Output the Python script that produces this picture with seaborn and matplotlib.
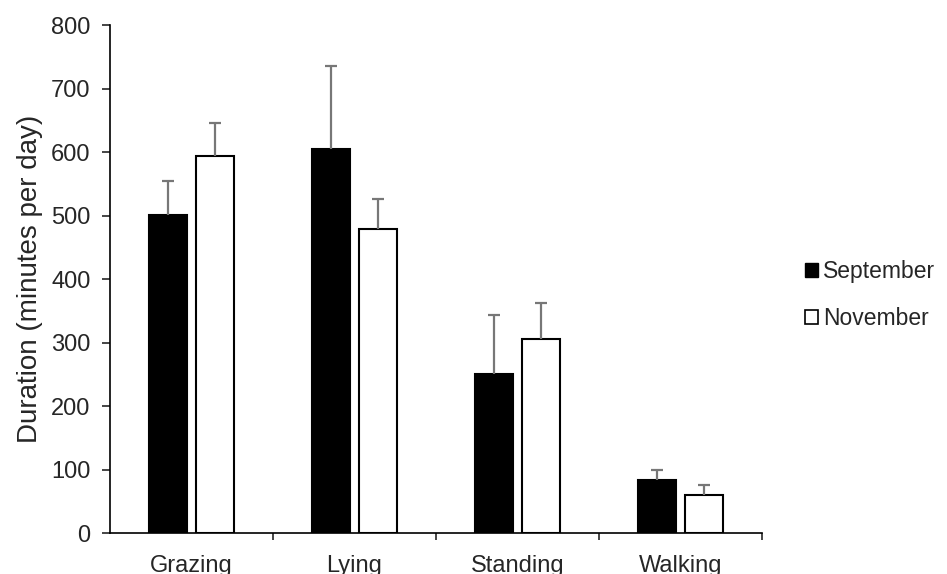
import numpy as np
import pandas as pd
import matplotlib
matplotlib.use("Agg")
import matplotlib.pyplot as plt
import seaborn as sns
from matplotlib.patches import Patch
from matplotlib.ticker import FixedLocator

behaviours = ["Grazing", "Lying", "Standing", "Walking"]
months = ["September", "November"]
september = [501, 605, 251, 84]
november = [593, 478, 306, 60]
september_se = [54, 131, 93, 15]
november_se = [53, 48, 56, 16]

df = pd.DataFrame({
    "behaviour": behaviours * 2,
    "month": [months[0]] * 4 + [months[1]] * 4,
    "duration": september + november,
})

sns.set_style("white")
plt.rcParams["font.family"] = ["Liberation Sans", "DejaVu Sans"]

fig = plt.figure(figsize=(9.47, 5.74), dpi=100)
ax = fig.add_axes([0.116, 0.0714, 0.689, 0.885])

sns.barplot(
    data=df, x="behaviour", y="duration", hue="month",
    order=behaviours, hue_order=months,
    palette={"September": "black", "November": "white"},
    edgecolor="black", linewidth=1.5, width=0.577, gap=0.19,
    errorbar=None, legend=False, ax=ax,
)

# one-sided error bars in grey, drawn behind the bars
cap = 0.037
for cont, errs in zip(ax.containers, [september_se, november_se]):
    for bar, e in zip(cont, errs):
        xc = bar.get_x() + bar.get_width() / 2
        top = bar.get_height()
        ax.vlines(xc, top, top + e, colors="#777777", linewidth=1.6, zorder=1)
        ax.hlines(top + e, xc - cap, xc + cap, colors="#777777", linewidth=1.6, zorder=1)

ax.set_ylim(0, 800)
ax.set_xlim(-0.5, 3.5)
ax.set_yticks(np.arange(0, 801, 100))
ax.set_ylabel("Duration (minutes per day)", fontsize=20, labelpad=6)
ax.set_xlabel("")
ax.tick_params(axis="y", labelsize=17, length=6, width=1.2, direction="out", left=True, pad=8)
ax.tick_params(axis="x", which="major", labelsize=17, length=0, pad=16)
ax.xaxis.set_minor_locator(FixedLocator([0.5, 1.5, 2.5, 3.5]))
ax.tick_params(axis="x", which="minor", length=5, width=1.2, direction="out", bottom=True)

for side in ["top", "right"]:
    ax.spines[side].set_visible(False)
for side in ["left", "bottom"]:
    ax.spines[side].set_color("black")
    ax.spines[side].set_linewidth(1.2)

handles = [Patch(facecolor="black", edgecolor="black", label="September"),
           Patch(facecolor="white", edgecolor="black", linewidth=1.2, label="November")]
fig.legend(handles=handles, loc="center left", bbox_to_anchor=(0.828, 0.486),
           frameon=False, fontsize=16.5, handlelength=0.6, handleheight=0.6,
           handletextpad=0.2, labelspacing=1.05)

fig.savefig("out.png", dpi=100)
